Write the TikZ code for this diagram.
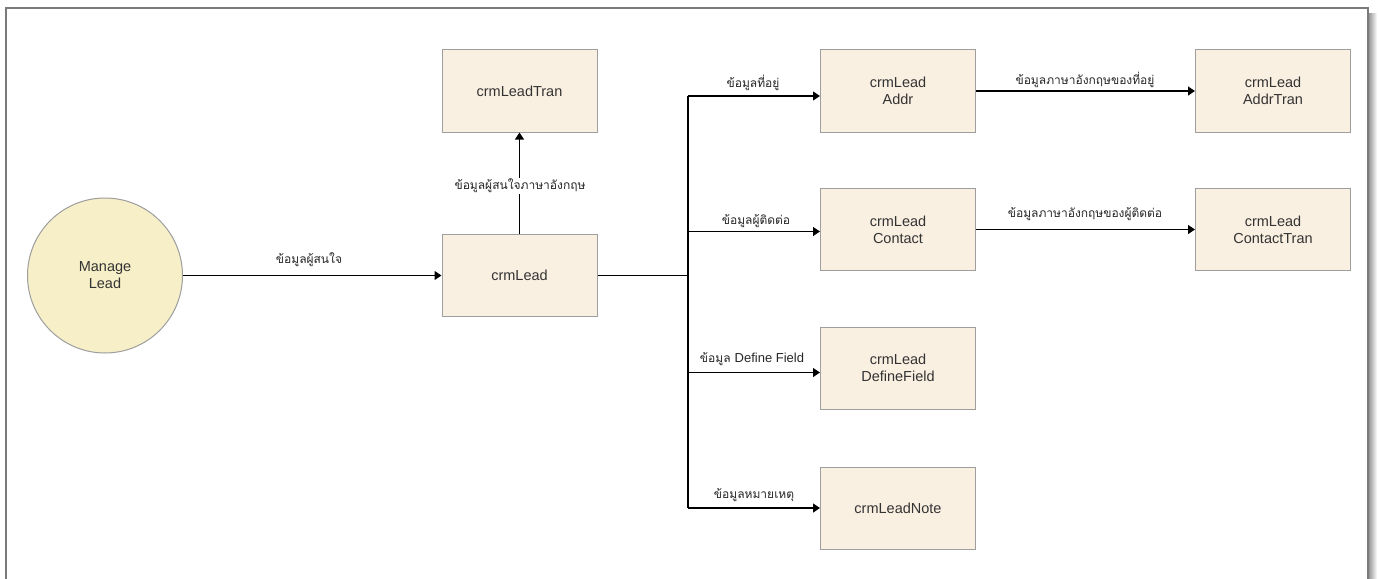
\documentclass[tikz,border=0pt]{standalone}
\usepackage{fontspec}
\setmainfont{Liberation Sans}
\newfontfamily\thaifont[Script=Thai]{Loma}
\usetikzlibrary{arrows.meta}
\definecolor{boxfill}{HTML}{FAF0E2}
\definecolor{boxline}{HTML}{9E9E9E}
\definecolor{circfill}{HTML}{F6EFC8}
\definecolor{txt}{HTML}{333333}
\definecolor{frameline}{HTML}{7A7A7A}
\begin{document}
\begin{tikzpicture}[x=1pt,y=-1pt,
  tbl/.style={draw=boxline, fill=boxfill, line width=1pt, minimum width=155pt, minimum height=82pt,
    inner sep=0pt, align=center, text=txt, font=\fontsize{14.5}{17}\selectfont},
  proc/.style={circle, draw=boxline, fill=circfill, line width=1pt, minimum size=155pt, inner sep=0pt,
    align=center, text=txt, font=\fontsize{14.5}{17}\selectfont},
  conn/.style={line width=1.2pt, black},
  arr/.style={conn, -{Triangle[length=7pt,width=9pt]}},
  lbl/.style={inner sep=1pt, text=black!85, font=\fontsize{12}{14}\selectfont\thaifont}]
\useasboundingbox (0,0) rectangle (1378,578);
\fill[white] (0,0) rectangle (1378,578);
% frame with shadow
\shade[left color=black!45, right color=white] (1368,14) rectangle (1377,578);
\draw[frameline, line width=1.3pt] (6,580) -- (6,8) -- (1368,8) -- (1368,580);

\node[proc] (ml) at (105,275.5) {Manage\\Lead};
\node[tbl] (lead) at (519.5,275.5) {crmLead};
\node[tbl] (tran) at (519.5,91) {crmLeadTran};
\node[tbl] (addr) at (898,91) {crmLead\\Addr};
\node[tbl] (contact) at (898,229.5) {crmLead\\Contact};
\node[tbl] (define) at (898,368) {crmLead\\DefineField};
\node[tbl] (note) at (898,508) {crmLeadNote};
\node[tbl] (addrtran) at (1273,91) {crmLead\\AddrTran};
\node[tbl] (contacttran) at (1273,229.5) {crmLead\\ContactTran};

\coordinate (j) at (688,275.5);
\coordinate (ja) at (688,96);
\coordinate (jc) at (688,231.5);
\coordinate (jd) at (688,372.5);
\coordinate (jn) at (688,508);

\draw[arr] (ml.east) -- (lead.west);
\draw[arr] (lead.north) -- (tran.south);
\draw[conn] (lead.east) -- (j);
\draw[conn] (ja) -- (jn);
\draw[arr] (ja) -- (ja -| addr.west);
\draw[arr] (jc) -- (jc -| contact.west);
\draw[arr] (jd) -- (jd -| define.west);
\draw[arr] (jn) -- (note.west);
\draw[arr] (addr.east) -- (addrtran.west);
\draw[arr] (contact.east) -- (contacttran.west);

\node[lbl] (l1) at (309,260) {ข้อมูลผู้สนใจ};
\node[lbl, fill=white] (l2) at (520,186) {ข้อมูลผู้สนใจภาษาอังกฤษ};
\node[lbl] (l3) at (753,83) {ข้อมูลที่อยู่};
\node[lbl] (l4) at (756,221) {ข้อมูลผู้ติดต่อ};
\node[lbl] (l5) at (752,359) {ข้อมูล {\fontspec{Liberation Sans}\fontsize{13}{15}\selectfont Define Field}};
\node[lbl] (l6) at (754,495) {ข้อมูลหมายเหตุ};
\node[lbl] (l7) at (1085,80) {ข้อมูลภาษาอังกฤษของที่อยู่};
\node[lbl] (l8) at (1085,214) {ข้อมูลภาษาอังกฤษของผู้ติดต่อ};
\end{tikzpicture}
\end{document}
